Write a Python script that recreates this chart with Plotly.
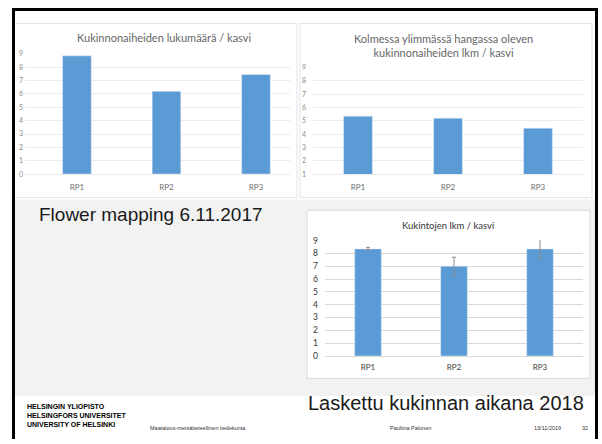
import plotly.graph_objects as go

# ---- data -------------------------------------------------------------
categories = ["RP1", "RP2", "RP3"]
motifs_per_plant = [8.85, 6.2, 7.45]          # Kukinnonaiheiden lukumäärä / kasvi
top3_motifs_per_plant = [5.35, 5.2, 4.45]     # kolmessa ylimmässä hangassa
flowers_per_plant = [8.35, 7.0, 8.35]         # Kukintojen lkm / kasvi (2018)
flowers_err = [0.12, 0.7, 0.7]

ticks_0_9 = list(range(0, 10))
ticks_1_9 = list(range(1, 10))

# ---- layout helpers (pixel -> paper) -----------------------------------
W, H = 602, 444


def px(x):
    return x / W


def py(y):
    return 1 - y / H


BAR = "#5b9bd5"
GRID_LIGHT = "#ececec"
GRID = "#d9d9d9"
CHART_FONT = "Lato"
SLIDE_FONT = "Liberation Sans"

fig = go.Figure()

fig.add_trace(go.Bar(x=categories, y=motifs_per_plant, marker_color=BAR,
                     width=0.32, xaxis="x", yaxis="y", hoverinfo="skip"))
fig.add_trace(go.Bar(x=categories, y=top3_motifs_per_plant, marker_color=BAR,
                     width=0.32, xaxis="x2", yaxis="y2", hoverinfo="skip"))
fig.add_trace(go.Bar(x=categories, y=flowers_per_plant, marker_color=BAR,
                     width=0.31, xaxis="x3", yaxis="y3", hoverinfo="skip",
                     error_y=dict(type="data", array=flowers_err, visible=True,
                                  color="#8c8c8c", thickness=1, width=2)))

small_gray = dict(family=CHART_FONT, size=7, color="#8c8c8c")
cat_gray = dict(family=CHART_FONT, size=8, color="#6f6f6f")

shapes = []
# light grey slide area behind the lower half
shapes.append(dict(type="rect", xref="paper", yref="paper", x0=px(14), x1=px(596),
                   y0=py(400), y1=py(199), fillcolor="#f2f2f2", line_width=0, layer="below"))
# chart panels
for (x0, y0, x1, y1, lc) in [(14, 19, 297, 197, "#e4e4e4"),
                             (300, 19, 592, 197, "#e4e4e4"),
                             (307, 210, 590, 382, "#d9d9d9")]:
    shapes.append(dict(type="rect", xref="paper", yref="paper", x0=px(x0), x1=px(x1),
                       y0=py(y1), y1=py(y0), fillcolor="white",
                       line=dict(color=lc, width=1), layer="below"))
# slide frame
for (x0, y0, x1, y1) in [(13.5, 3, 13.5, 444), (12, 4.5, 598, 4.5), (596.5, 3, 596.5, 444)]:
    shapes.append(dict(type="line", xref="paper", yref="paper", x0=px(x0), x1=px(x1),
                       y0=py(y0), y1=py(y1), line=dict(color="black", width=3)))

annotations = [
    dict(text="Kukinnonaiheiden lukumäärä / kasvi", x=px(164), y=py(33),
         font=dict(family=CHART_FONT, size=11, color="#666666")),
    dict(text="Kolmessa ylimmässä hangassa oleven<br>kukinnonaiheiden lkm / kasvi",
         x=px(443), y=py(41), font=dict(family=CHART_FONT, size=11, color="#666666")),
    dict(text="Kukintojen lkm / kasvi", x=px(448), y=py(226),
         font=dict(family=CHART_FONT, size=9.5, color="#333333")),
    dict(text="Flower mapping 6.11.2017", x=px(37), y=py(214), xanchor="left",
         font=dict(family=SLIDE_FONT, size=19, color="#1a1a1a")),
    dict(text="Laskettu kukinnan aikana 2018", x=px(446), y=py(407),
         font=dict(family=SLIDE_FONT, size=20, color="#1a1a1a")),
    dict(text="<b>HELSINGIN YLIOPISTO<br>HELSINGFORS UNIVERSITET<br>UNIVERSITY OF HELSINKI</b>",
         x=px(25), y=py(420), xanchor="left", align="left",
         font=dict(family=SLIDE_FONT, size=7, color="black")),
    dict(text="Maatalous-metsätieteellinen tiedekunta", x=px(148), y=py(433), xanchor="left",
         font=dict(family=SLIDE_FONT, size=5.5, color="#333333")),
    dict(text="Pauliina Palonen", x=px(388), y=py(433), xanchor="left",
         font=dict(family=SLIDE_FONT, size=5.5, color="#333333")),
    dict(text="13/11/2019", x=px(532), y=py(433), xanchor="left",
         font=dict(family=SLIDE_FONT, size=5.5, color="#333333")),
    dict(text="32", x=px(580), y=py(433), xanchor="left",
         font=dict(family=SLIDE_FONT, size=5.5, color="#333333")),
]
for a in annotations:
    a.update(xref="paper", yref="paper", showarrow=False)
    a.setdefault("xanchor", "center")
    a.setdefault("yanchor", "middle")

fig.update_layout(
    width=W, height=H, margin=dict(l=0, r=0, t=0, b=0),
    paper_bgcolor="white", plot_bgcolor="rgba(0,0,0,0)",
    showlegend=False, bargap=0.7,
    shapes=shapes, annotations=annotations,
    xaxis=dict(domain=[px(25), px(290)], range=[-0.58, 2.38], anchor="y",
               tickfont=cat_gray, ticks="", showline=True, linecolor=GRID_LIGHT,
               ticklabelstandoff=5),
    yaxis=dict(domain=[py(173), py(50)], range=[0, 9], anchor="x",
               tickvals=ticks_0_9, tickfont=small_gray, gridcolor=GRID_LIGHT,
               zeroline=False, ticks="", ticklabelstandoff=1),
    xaxis2=dict(domain=[px(313), px(583)], range=[-0.5, 2.5], anchor="y2",
                tickfont=cat_gray, ticks="", showline=True, linecolor=GRID_LIGHT,
                ticklabelstandoff=5),
    yaxis2=dict(domain=[py(173), py(64)], range=[1, 9], anchor="x2",
                tickvals=ticks_1_9, tickfont=small_gray, gridcolor=GRID_LIGHT,
                zeroline=False, ticks="", ticklabelstandoff=6),
    xaxis3=dict(domain=[px(325), px(583)], range=[-0.5, 2.5], anchor="y3",
                tickfont=dict(family=CHART_FONT, size=8, color="#404040"), ticks="",
                showline=True, linecolor=GRID, ticklabelstandoff=3),
    yaxis3=dict(domain=[py(359), py(241)], range=[0, 9], anchor="x3",
                tickvals=ticks_0_9, tickfont=dict(family=CHART_FONT, size=8.5, color="#333333"),
                gridcolor=GRID, zeroline=False, ticks="", ticklabelstandoff=6),
)

fig.write_html("out.html")
